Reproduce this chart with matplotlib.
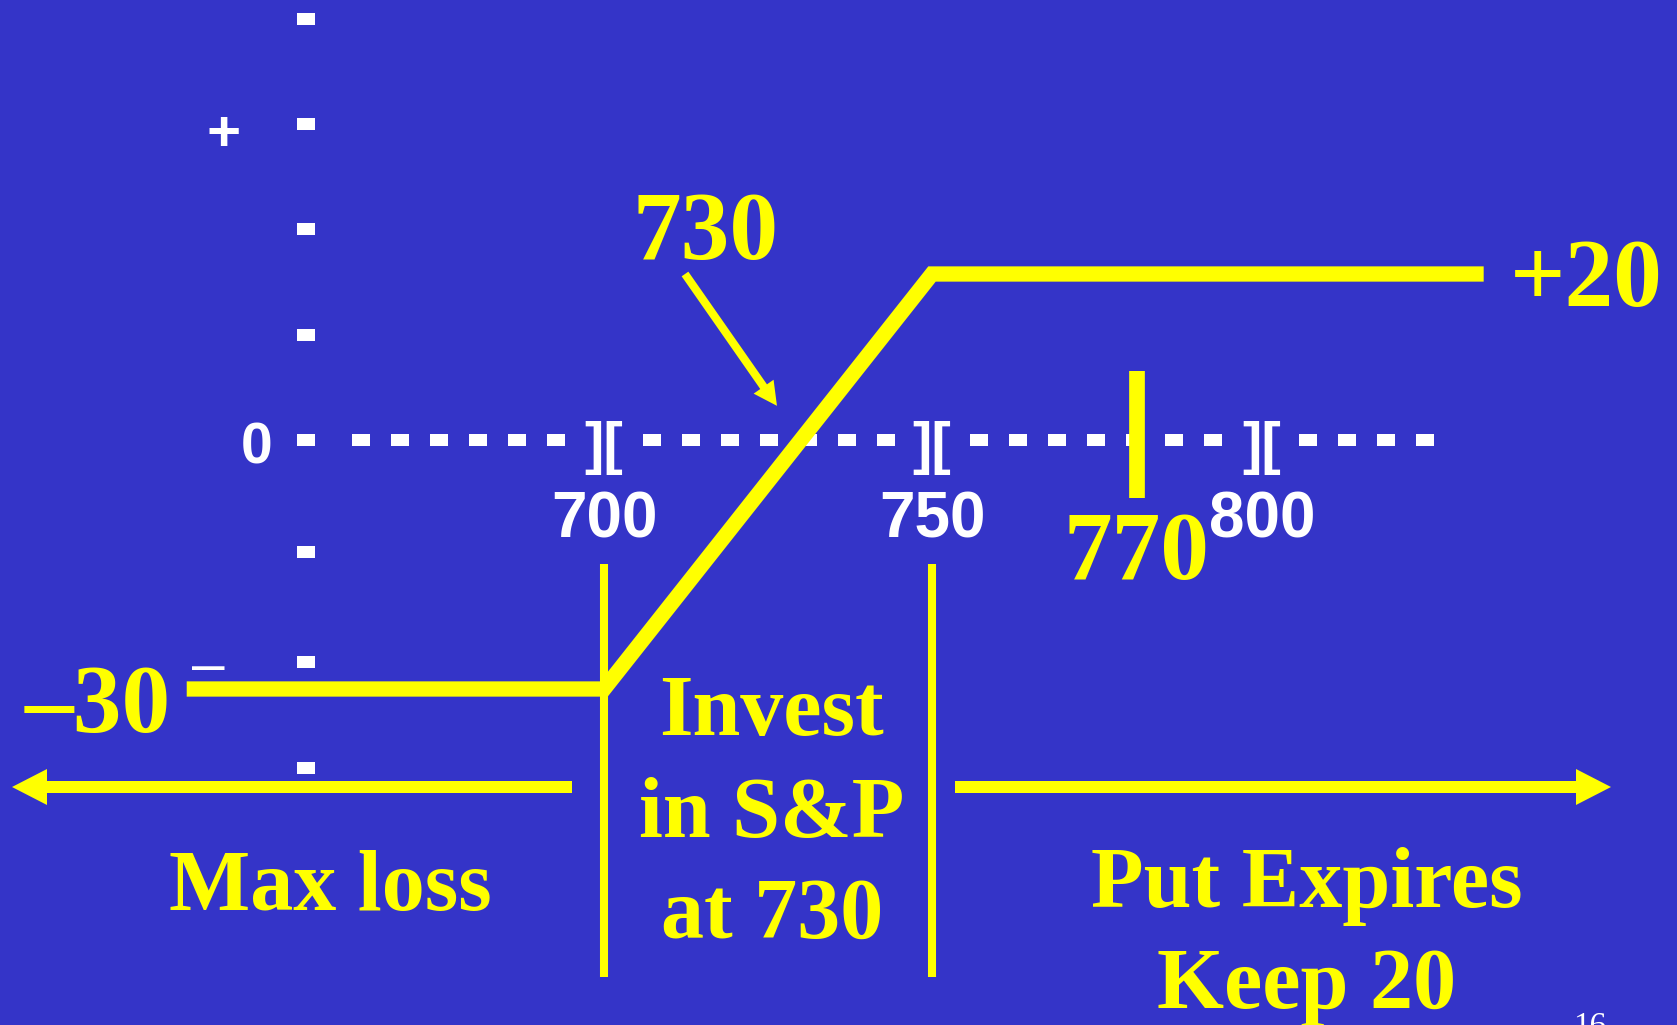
import numpy as np
import matplotlib.pyplot as plt
import matplotlib.transforms as mtransforms
from matplotlib.patches import FancyArrow

plt.rcParams['lines.scale_dashes'] = False

W, H = 1677, 1025
BG = '#3434C8'
YELLOW = '#FFFF00'
WHITE = '#FFFFFF'
SANS = 'Liberation Sans'
SERIF = 'Liberation Serif'

# profit at expiry of the short put position
price = [636, 700, 750, 834]
payoff = [-30, -30, 20, 20]
strikes = [700, 750, 800]
strike_labels = ['700', '750', '800']
breakeven = 730
spot = 770
max_loss = -30
max_gain = 20

# the price axis is broken at each "][", so every stretch has its own scale
axis_val = [500, 700, 750, 770, 800, 1000]
axis_px = [604 - 200 * 6.52, 604, 932, 1137, 1262, 1262 + 200 * 6.52]
Y0_PX = 440          # pixel row of the zero line
PX_PER_UNIT = 8.3


def fwd(v):
    return np.interp(v, axis_val, axis_px)


def inv(p):
    return np.interp(p, axis_px, axis_val)


fig = plt.figure(figsize=(W / 100, H / 100), dpi=100, facecolor=BG)
ax = fig.add_axes([0, 0, 1, 1])
ax.set_xscale('function', functions=(fwd, inv))
ax.set_xlim(inv(0), inv(W))
ax.set_ylim(-(H - Y0_PX) / PX_PER_UNIT, Y0_PX / PX_PER_UNIT)
ax.set_autoscale_on(False)
ax.axis('off')

# slide pixels, origin top left
px = mtransforms.Affine2D().scale(1 / W, -1 / H).translate(0, 1) + fig.transFigure
xpx = mtransforms.blended_transform_factory(ax.transData, px)

# y axis made of white dashes
for row in [19, 124, 229, 335, 440, 552, 662, 768]:
    ax.plot([297, 315], [row, row], transform=px, color=WHITE, lw=8.64,
            solid_capstyle='butt')

# dotted zero line, interrupted by the breaks
segs = [(352, fwd(700) - 38), (fwd(700) + 39, fwd(750) - 37),
        (fwd(750) + 38, fwd(800) - 38), (fwd(800) + 37, 1434)]
for a, b in segs:
    ax.plot([a, b], [Y0_PX, Y0_PX], transform=px, color=WHITE, lw=8.64,
            dashes=(12.96, 15.12), dash_capstyle='butt')

for s, lab in zip(strikes, strike_labels):
    ax.text(s, 463, '][', transform=xpx, ha='center', va='baseline',
            color=WHITE, fontsize=42, fontweight='bold', family=SANS)
    ax.text(s, 538, lab, transform=xpx, ha='center', va='baseline',
            color=WHITE, fontsize=46, fontweight='bold', family=SANS)

ax.text(224, 151, '+', transform=px, ha='center', va='baseline',
        color=WHITE, fontsize=42, fontweight='bold', family=SANS)
ax.text(257, 463, '0', transform=px, ha='center', va='baseline',
        color=WHITE, fontsize=41, fontweight='bold', family=SANS)
ax.text(208, 683, '–', transform=px, ha='center', va='baseline',
        color=WHITE, fontsize=42, family=SANS)

# payoff line and markers
ax.plot(price, payoff, color=YELLOW, lw=11, solid_joinstyle='miter',
        solid_capstyle='butt')
ax.vlines([strikes[0], strikes[1]], -64.7, -14.9, color=YELLOW, lw=5.8)
ax.vlines(spot, -7.0, 8.3, color=YELLOW, lw=11.3)

big = dict(color=YELLOW, fontsize=70, fontweight='bold', family=SERIF,
           va='baseline')
ax.text(706, 259, str(breakeven), transform=px, ha='center', **big)
ax.text(spot, 579, str(spot), transform=xpx, ha='center', **big)
ax.text(1510, 306, f'+{max_gain}', transform=px, ha='left', **big)
ax.text(25, 732, f'–{abs(max_loss)}', transform=px, ha='left', **big)

ax.annotate('', xy=(breakeven, 0), xytext=(685, 274), textcoords=px,
            arrowprops=dict(arrowstyle='simple,head_length=1.2,head_width=1.25,tail_width=0.42',
                            mutation_scale=14, shrinkA=0, shrinkB=30,
                            color=YELLOW, lw=0))

# zone captions
cap = dict(color=YELLOW, fontsize=62, fontweight='bold', family=SERIF,
           va='baseline', ha='center', transform=px)
ax.text(772, 735, 'Invest', **cap)
ax.text(772, 837, 'in S&P', **cap)
ax.text(772, 938, f'at {breakeven}', **cap)
ax.text(330, 910, 'Max loss', **cap)
ax.text(1307, 907, 'Put Expires', **cap)
ax.text(1307, 1008, f'Keep {max_gain}', **cap)

ax.add_patch(FancyArrow(572, 787, 12 - 572, 0, width=12, head_width=36,
                        head_length=35, length_includes_head=True,
                        transform=px, color=YELLOW, lw=0))
ax.add_patch(FancyArrow(955, 787, 1611 - 955, 0, width=12, head_width=36,
                        head_length=35, length_includes_head=True,
                        transform=px, color=YELLOW, lw=0))

ax.text(1590, 1035, '16', transform=px, ha='center', va='baseline',
        color=WHITE, fontsize=24, family=SERIF)

fig.savefig('out.png', dpi=100, facecolor=BG)
